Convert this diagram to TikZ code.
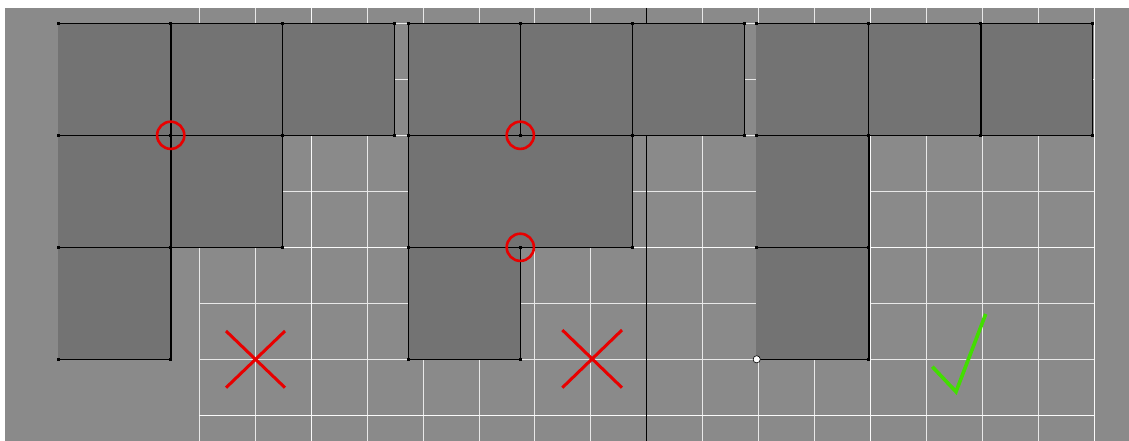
\documentclass[tikz,border=0pt]{standalone}
\definecolor{bggray}{RGB}{138,138,138}
\definecolor{tilegray}{RGB}{115,115,115}
\definecolor{gridwhite}{RGB}{232,232,232}
\definecolor{markred}{RGB}{232,0,0}
\definecolor{markgreen}{RGB}{66,222,0}
\usetikzlibrary{arrows.meta,positioning}

\begin{document}
\begin{tikzpicture}[x=1pt, y=-1pt,
    gridline/.style={gridwhite, line width=1pt},
    gridmajor/.style={white!96!gray, line width=1.4pt},
    axisline/.style={black, line width=1pt},
    tile/.style={fill=tilegray, draw=black, line width=0.9pt},
    seam/.style={black, line width=1.6pt},
    rim/.style={black!55, line width=1.6pt},
    vdot/.style={fill=black},
    ring/.style={markred, line width=2.6pt},
    cross/.style={markred, line width=3pt},
    tick/.style={markgreen, line width=3.6pt}
  ]
    \useasboundingbox (0,0) rectangle (1129,441);

    % Background and grid
    \fill[bggray] (5,8) rectangle (1129,441);
    \foreach \k in {0,...,16}
      \draw[gridline] (199.3+55.94*\k,8) -- (199.3+55.94*\k,441);
    \foreach \k in {0,...,7}
      \draw[gridline] (199.3,23.3+56*\k) -- (1094.3,23.3+56*\k);
    \foreach \x in {311.2,870.6,1094.3}
      \draw[gridmajor] (\x,8) -- (\x,441);
    \foreach \y in {247.3,415.3}
      \draw[gridmajor] (199.3,\y) -- (1094.3,\y);
    \draw[axisline] (646.8,8) -- (646.8,441);

    % Left group
    \draw[tile] (58.7,23.3) rectangle (170.7,135.3);
    \draw[tile] (170.7,23.3) rectangle (282.7,135.3);
    \draw[tile] (282.7,23.3) rectangle (394.7,135.3);
    \draw[tile] (58.7,135.3) rectangle (170.7,247.3);
    \draw[tile] (170.7,135.3) rectangle (282.7,247.3);
    \draw[tile] (58.7,247.3) rectangle (170.7,359.3);
    \draw[rim] (58.7,23.3) -- (58.7,359.3);
    \draw[seam] (170.7,23.3) -- (170.7,359.3);
    \draw[seam] (58.7,247.3) -- (282.7,247.3);

    % Middle group
    \draw[tile] (408.3,23.3) rectangle (520.3,135.3);
    \draw[tile] (520.3,23.3) rectangle (632.3,135.3);
    \draw[tile] (632.3,23.3) rectangle (744.3,135.3);
    \draw[tile] (408.3,135.3) rectangle (632.3,247.3);
    \draw[tile] (408.3,247.3) rectangle (520.3,359.3);
    \draw[seam] (408.3,23.3) -- (408.3,359.3);
    \draw[seam] (408.3,247.3) -- (632.3,247.3);

    % Right group
    \draw[tile] (756.7,23.3) rectangle (868.7,135.3);
    \draw[tile] (868.7,23.3) rectangle (980.7,135.3);
    \draw[tile] (980.7,23.3) rectangle (1092.7,135.3);
    \draw[tile] (756.7,135.3) rectangle (868.7,247.3);
    \draw[tile] (756.7,247.3) rectangle (868.7,359.3);
    \draw[rim] (756.7,23.3) -- (756.7,359.3);
    \draw[seam] (868.7,135.3) -- (868.7,359.3);
    \draw[seam] (980.7,23.3) -- (980.7,135.3);
    \draw[seam] (756.7,247.3) -- (868.7,247.3);

    % Vertices
    \foreach \x in {58.7,170.7,282.7,394.7,408.3,520.3,632.3,744.3,756.7,868.7,980.7,1092.7}
      \foreach \y in {23.3,135.3}
        \fill[vdot] (\x,\y) +(-1.6,-1.6) rectangle +(1.6,1.6);
    \foreach \x in {58.7,170.7,282.7,408.3,520.3,632.3,756.7,868.7}
      \fill[vdot] (\x,247.3) +(-1.6,-1.6) rectangle +(1.6,1.6);
    \foreach \x in {58.7,170.7,408.3,520.3,868.7}
      \fill[vdot] (\x,359.3) +(-1.6,-1.6) rectangle +(1.6,1.6);
    \draw[fill=white, line width=0.6pt] (756.7,359.3) circle[radius=3.6pt];

    % Marks
    \draw[ring] (170.7,135.3) circle[radius=13.6pt];
    \draw[ring] (520.3,135.3) circle[radius=13.6pt];
    \draw[ring] (520.3,247.3) circle[radius=13.6pt];
    \draw[cross] (226,331) -- (285,387.7);
    \draw[cross] (285,331) -- (226,387.7);
    \draw[cross] (562.3,330) -- (622,387.7);
    \draw[cross] (622,330) -- (562.3,387.7);
    \draw[tick] (932.3,366.7) -- (956,391.7) -- (985.7,314);
  \end{tikzpicture}
\end{document}
